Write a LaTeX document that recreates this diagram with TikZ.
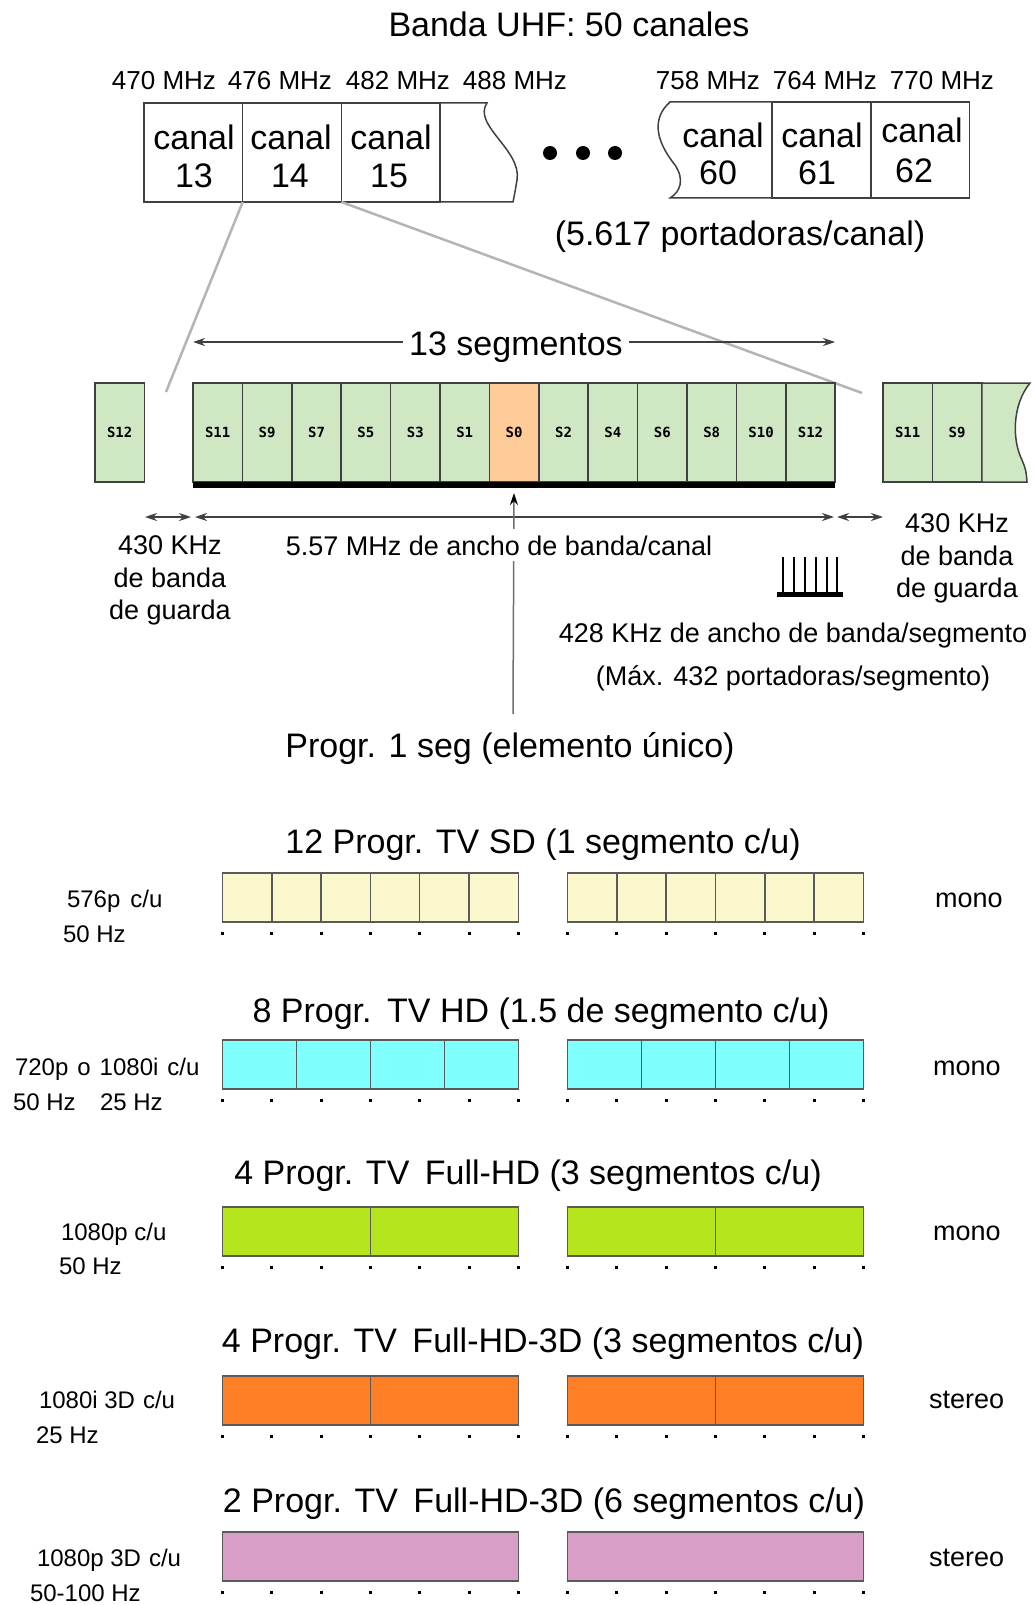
\documentclass[tikz,border=0pt]{standalone}
\usepackage{fontspec}
\setmainfont{Liberation Sans}
\newfontfamily\segfont{DejaVu Sans Mono}
\usetikzlibrary{arrows.meta}
\definecolor{segline}{HTML}{404040}
\definecolor{seggreen}{RGB}{208,231,196}
\definecolor{segorange}{RGB}{255,204,153}
\definecolor{sdyellow}{RGB}{250,248,204}
\definecolor{hdcyan}{RGB}{128,255,255}
\definecolor{fhdlime}{RGB}{181,230,29}
\definecolor{tdorange}{RGB}{255,127,39}
\definecolor{pinkrow}{RGB}{217,158,200}
\definecolor{guide}{RGB}{180,180,180}
\definecolor{rowline}{RGB}{90,90,90}
\definecolor{vgray}{RGB}{110,110,110}
\newcommand\fsz[2]{\fontsize{#1}{#2}\selectfont}
\begin{document}
\begin{tikzpicture}[x=1pt,y=-1pt,
  every node/.style={inner sep=0pt, outer sep=0pt},
  big/.style={font=\fsz{34}{40}},
  mid/.style={font=\fsz{27}{32.5}},
  freq/.style={font=\fsz{26}{30}},
  lab/.style={font=\fsz{24}{28}, anchor=base west},
  rlab/.style={font=\fsz{27}{32}, anchor=base west},
  chline/.style={draw=segline, line width=1.5pt},
  chbox/.style={chline, minimum width=98.67pt, minimum height=99pt, anchor=north west},
  segbox/.style={draw=segline, line width=1.5pt, fill=seggreen, minimum width=49.4pt, minimum height=99pt, anchor=north west, font=\segfont\bfseries\fsz{14}{14}},
  rowbox/.style={draw=rowline, line width=1.5pt, minimum height=49pt, anchor=north west},
  guideline/.style={draw=guide, line width=2.5pt},
  dimarrow/.style={draw=segline, line width=1.3pt, {Stealth[length=12pt,width=8pt]}-{Stealth[length=12pt,width=8pt]}},
]
\useasboundingbox (0,0) rectangle (1033,1605);

% ---------- top: UHF band ----------
\node[big, anchor=base] (title) at (569,37) {Banda UHF: 50 canales};

\node[freq, anchor=base] (f470) at (164,90) {470 MHz};
\node[freq, anchor=base] (f476) at (280,90) {476 MHz};
\node[freq, anchor=base] (f482) at (398,90) {482 MHz};
\node[freq, anchor=base] (f488) at (515,90) {488 MHz};
\node[freq, anchor=base] (f758) at (708,90) {758 MHz};
\node[freq, anchor=base] (f764) at (825,90) {764 MHz};
\node[freq, anchor=base] (f770) at (942,90) {770 MHz};

\coordinate (gl) at (166,392);
\coordinate (gr) at (862,393);

\node[chbox] (c13) at (144,103) {};
\node[chbox] (c14) at (242.67,103) {};
\node[chbox] (c15) at (341.33,103) {};
\draw[chline] (440,103) -- (487,103) .. controls (472,125) and (522,150) .. (517,180) .. controls (515,192) .. (513,202) -- (440,202);

\draw[chline] (772,102) -- (670,102) .. controls (652,118) and (655,140) .. (675,165) .. controls (685,180) and (680,192) .. (670,198) -- (772,198);
\node[chbox, minimum height=96pt] (c61) at (772,102) {};
\node[chbox, minimum height=96pt] (c62) at (871,102) {};

\draw[guideline] (c14.south west) -- (gl);
\draw[guideline] (c14.south east) -- (gr);

\node[big, anchor=base] (t13a) at (194,150) {canal};
\node[big, anchor=base] (t13b) at (194,188) {13};
\node[big, anchor=base] (t14a) at (291,150) {canal};
\node[big, anchor=base] (t14b) at (290,188) {14};
\node[big, anchor=base] (t15a) at (391,150) {canal};
\node[big, anchor=base] (t15b) at (389,188) {15};
\node[big, anchor=base] (t60a) at (723,148) {canal};
\node[big, anchor=base] (t60b) at (718,185) {60};
\node[big, anchor=base] (t61a) at (822,148) {canal};
\node[big, anchor=base] (t61b) at (817,185) {61};
\node[big, anchor=base] (t62a) at (922,143) {canal};
\node[big, anchor=base] (t62b) at (914,183) {62};

\fill (550,153) circle[radius=7pt];
\fill (583,153) circle[radius=7pt];
\fill (615,153) circle[radius=7pt];

\node[big, anchor=base] (port) at (740,246) {(5.617 portadoras/canal)};

% ---------- segments ----------
\coordinate (t1) at (193,342);
\coordinate (t2) at (835,342);
\draw[dimarrow] (t1) -- (t2);
\node[big, anchor=base, fill=white, inner xsep=6pt] (nseg) at (516,355) {13 segmentos};

\node[segbox] (x12) at (95,383) {S12};
\foreach \lbl/\cc [count=\i from 0] in {S11/seggreen,S9/seggreen,S7/seggreen,S5/seggreen,S3/seggreen,S1/seggreen,S0/segorange,S2/seggreen,S4/seggreen,S6/seggreen,S8/seggreen,S10/seggreen,S12/seggreen}
  \node[segbox, fill=\cc] (m\i) at ({193+\i*49.4},383) {\lbl};
\node[fill=black, minimum width=642pt, minimum height=6pt, anchor=north west] (bar) at (193,482) {};

\node[segbox] (r11) at (883,383) {S11};
\node[segbox] (r9) at (932.4,383) {S9};
\draw[draw=segline, line width=1.5pt, fill=seggreen] (981.8,383) -- (1030,383) .. controls (1012,405) and (1012,440) .. (1022,460) .. controls (1026,470) .. (1027,482) -- (981.8,482) -- cycle;

% bandwidth arrows
\coordinate (a1) at (145,517);
\coordinate (a2) at (191,517);
\coordinate (a3) at (195,517);
\coordinate (a4) at (834,517);
\coordinate (a5) at (837,517);
\coordinate (a6) at (883,517);
\draw[dimarrow] (a1) -- (a2);
\draw[dimarrow] (a3) -- (a4);
\draw[dimarrow] (a5) -- (a6);

\coordinate (pend) at (513,714);
\draw[draw=vgray, line width=1.5pt, -{Stealth[length=12pt,width=8pt,color=black]}] (pend) -- ([yshift=-5pt]bar.south);

\node[mid, anchor=base, fill=white, inner ysep=6pt, inner xsep=2pt] (bw) at (499,555) {5.57 MHz de ancho de banda/canal};

\node[mid, align=center] (gL) at (170,580.5) {430 KHz\\de banda\\de guarda};
\node[mid, align=center] (gR) at (957,558.5) {430 KHz\\de banda\\de guarda};

\foreach \x in {783,794,805,816,827,837} \draw[line width=1.5pt] (\x,557) -- (\x,593);
\fill (777,592) rectangle (843,597);

\node[mid, anchor=base] (segbw) at (793,642) {428 KHz de ancho de banda/segmento};
\node[mid, anchor=base] (maxp) at (793,685) {(Máx. 432 portadoras/segmento)};

\node[big, anchor=base] (prog) at (510,757) {Progr. 1 seg (elemento único)};

% ---------- program rows ----------
\node[big, anchor=base] (h1) at (543,853) {12 Progr. TV SD (1 segmento c/u)};
\node[big, anchor=base] (h2) at (541,1022) {8 Progr.\hspace{3pt} TV HD (1.5 de segmento c/u)};
\node[big, anchor=base] (h3) at (528,1184) {4 Progr. TV\hspace{6pt} Full-HD (3 segmentos c/u)};
\node[big, anchor=base] (h4) at (543,1352) {4 Progr. TV\hspace{6pt} Full-HD-3D (3 segmentos c/u)};
\node[big, anchor=base] (h5) at (544,1512) {2 Progr. TV\hspace{6pt} Full-HD-3D (6 segmentos c/u)};

\foreach \rowtop/\rowcol/\rown/\rowmul/\rowname in {873/sdyellow/6/1/sd, 1040/hdcyan/4/1.5/hd, 1207/fhdlime/2/3/fhd, 1376/tdorange/2/3/td, 1532/pinkrow/1/6/pk} {
  \foreach \j in {1,...,\rown} {
    \node[rowbox, fill=\rowcol, minimum width=\rowmul*49.3pt] (\rowname L\j) at ({222.5+(\j-1)*\rowmul*49.3}, \rowtop) {};
    \node[rowbox, fill=\rowcol, minimum width=\rowmul*49.3pt] (\rowname R\j) at ({567.6+(\j-1)*\rowmul*49.3}, \rowtop) {};
  }
  \foreach \k in {0,...,13} \fill ({222.5+\k*49.3-1.5}, \rowtop+58.5) rectangle +(3,3);
}

\node[lab] (l1a) at (67,907) {576p\hspace{10pt}c/u};
\node[lab] (l1b) at (63,942) {50 Hz};
\node[rlab] (r1) at (935,907) {mono};

\node[lab] (l2a) at (15,1075) {720p\hspace{9pt}o\hspace{9pt}1080i\hspace{9pt}c/u};
\node[lab] (l2b) at (13,1110) {50 Hz};
\node[lab] (l2c) at (100,1110) {25 Hz};
\node[rlab] (r2) at (933,1075) {mono};

\node[lab] (l3a) at (61,1240) {1080p c/u};
\node[lab] (l3b) at (59,1274) {50 Hz};
\node[rlab] (r3) at (933,1240) {mono};

\node[lab] (l4a) at (39,1408) {1080i 3D\hspace{8pt}c/u};
\node[lab] (l4b) at (36,1443) {25 Hz};
\node[rlab] (r4) at (929,1408) {stereo};

\node[lab] (l5a) at (37,1566) {1080p 3D\hspace{8pt}c/u};
\node[lab] (l5b) at (30,1601) {50-100 Hz};
\node[rlab] (r5) at (929,1566) {stereo};
\end{tikzpicture}
\end{document}
